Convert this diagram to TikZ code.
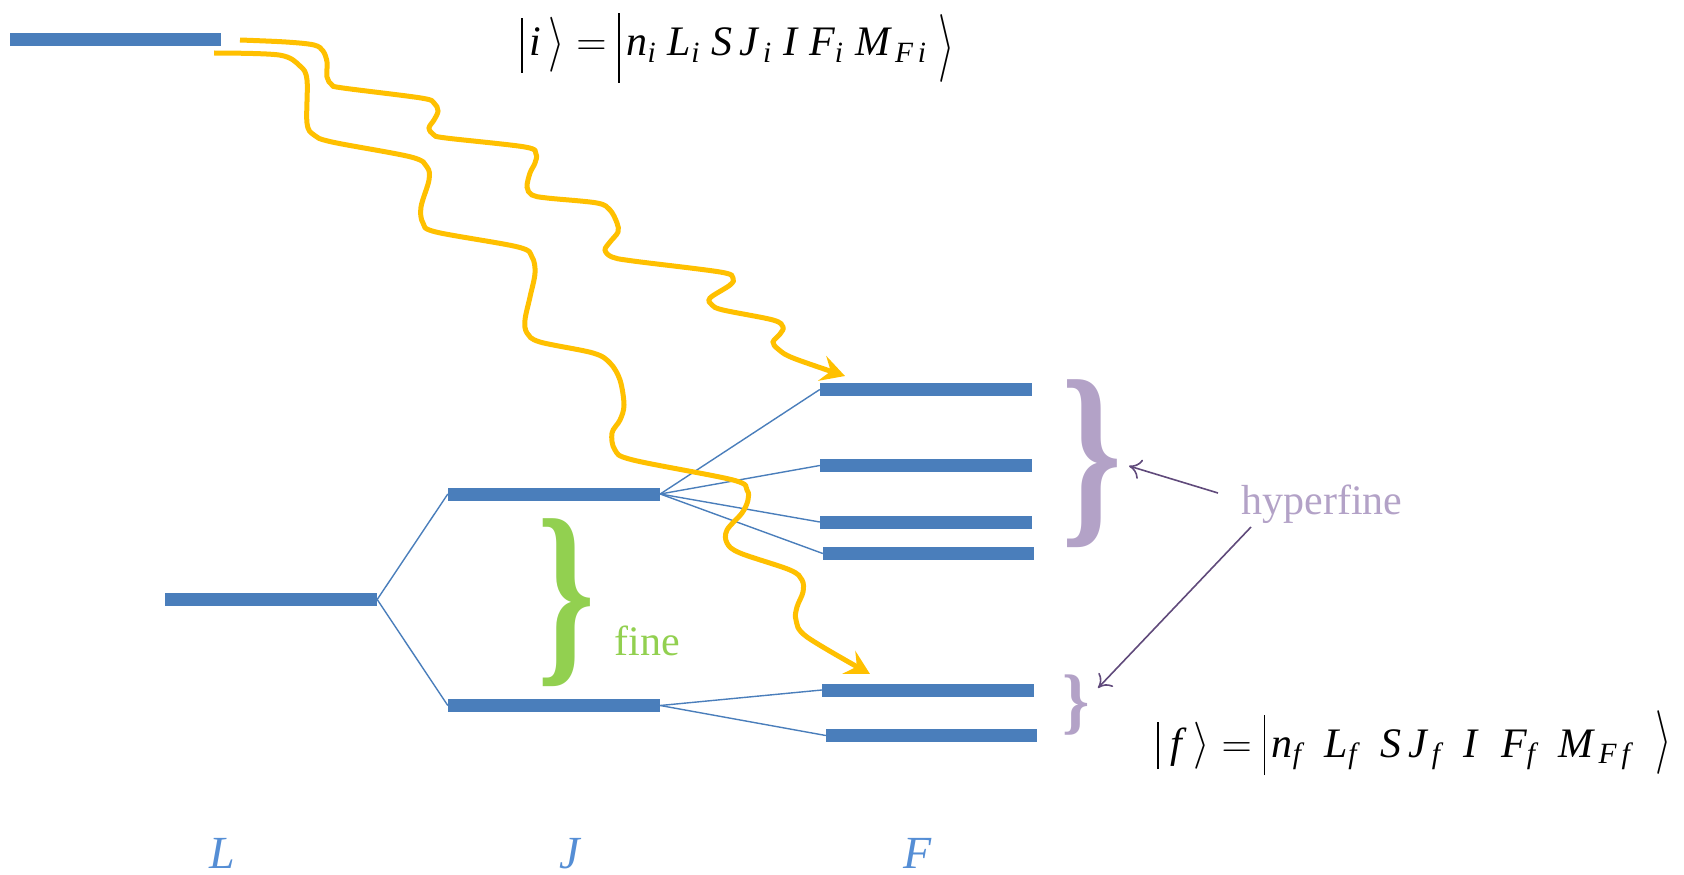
\RequirePackage{fix-cm}
\documentclass[tikz,border=0pt]{standalone}
\usepackage{amsmath}
\usepackage{fontspec}
\setmainfont{Liberation Serif}
\usetikzlibrary{arrows.meta}
\definecolor{barblue}{RGB}{74,126,187}
\definecolor{wavey}{RGB}{255,192,0}
\definecolor{fgreen}{RGB}{146,208,80}
\definecolor{hpurple}{RGB}{179,162,199}
\definecolor{apurple}{RGB}{96,74,123}
\definecolor{lblue}{RGB}{85,142,213}
\newcommand{\iv}[1]{\textit{#1}}
\newcommand{\vbar}[2]{\raisebox{#2}{\rule{1.4pt}{#1}}}
\newcommand{\rang}[2]{\raisebox{#2}{\scalebox{1}[#1]{$\rangle$}}}
\begin{document}
\begin{tikzpicture}[x=1pt,y=-1pt,
  level/.style={rectangle, fill=barblue, draw=none, minimum height=13pt, inner sep=0pt, minimum width=#1},
  level/.default=212pt,
  split/.style={draw=barblue, line width=1.4pt},
  photon/.style={draw=wavey, line width=5pt, -{Stealth[length=24pt,width=26pt,inset=9pt]}},
  bracenode/.style={inner sep=0pt, outer sep=0pt},
  hfarrow/.style={draw=apurple, line width=1.6pt, -{To[length=12pt,width=20pt,line width=1.6pt]}},
  axislbl/.style={text=lblue, font=\fontsize{46}{46}\selectfont\itshape, anchor=base, inner sep=0pt},
  eqn/.style={font=\fontsize{42}{48}\selectfont, inner sep=0pt, anchor=base west}
]
\useasboundingbox (0,0) rectangle (1684,875);

% levels
\node[level=211pt] (Li) at (115.5,40) {};
\node[level] (L) at (271,599.5) {};
\node[level] (Jt) at (554,494) {};
\node[level] (Jb) at (554,705.5) {};
\node[level] (F1) at (926,389.5) {};
\node[level] (F2) at (926,465.5) {};
\node[level] (F3) at (926,522) {};
\node[level=211pt] (F4) at (928.5,553.5) {};
\node[level] (F5) at (928,690) {};
\node[level=211pt] (F6) at (931.5,735.5) {};

% splitting lines
\draw[split] (L.east) -- (Jt.west);
\draw[split] (L.east) -- (Jb.west);
\draw[split] (Jt.east) -- (F1.west);
\draw[split] (Jt.east) -- (F2.west);
\draw[split] (Jt.east) -- (F3.west);
\draw[split] (Jt.east) -- (F4.west);
\draw[split] (Jb.east) -- (F5.west);
\draw[split] (Jb.east) -- (F6.west);

% photons
\draw[photon] plot[smooth, tension=0.55] coordinates {
 (240,40) (286,42) (314,45) (323,51) (327,62) (327,77) (332,85) (343,88)
 (421,98) (434,103) (438,111) (434,120) (429,128) (434,135) (446,138)
 (525,147) (536,154) (535,163) (530,173) (527,187) (532,195) (547,198)
 (597,203) (610,210) (617,223) (618,232) (610,242) (605,250) (612,257) (633,261)
 (720,272) (733,278) (730,285) (710,298) (712,305) (723,310)
 (773,320) (783,327) (780,334) (773,342) (778,349) (793,358) (845,376)};
\draw[photon] plot[smooth, tension=0.55] coordinates {
 (214,53) (279,55) (300,66) (307,80) (307,123) (314,135) (332,142)
 (411,157) (427,167) (429,180) (421,207) (423,223) (436,232)
 (518,247) (532,257) (535,273) (530,297) (525,320) (527,333) (540,342)
 (593,353) (610,363) (620,380) (624,405) (620,420) (612,433) (615,450) (633,460)
 (733,480) (747,490) (748,500) (742,513) (727,530) (727,543) (740,553)
 (790,570) (802,580) (803,592) (797,607) (796,620) (807,637) (870,674)};

% braces
\node[bracenode, text=fgreen] (fb) at (566.5,602.5) {\scalebox{0.72}[1]{\fontsize{203}{203}\selectfont\bfseries\}}};
\node[bracenode, text=hpurple] (hb) at (1091.5,463.5) {\scalebox{0.76}[1]{\fontsize{203}{203}\selectfont\bfseries\}}};
\node[bracenode, text=hpurple] (hs) at (1076.5,705.5) {\scalebox{0.95}[1]{\fontsize{73}{73}\selectfont\bfseries\}}};

% labels
\node[text=fgreen, font=\fontsize{42}{42}\selectfont, anchor=base, inner sep=0pt] (fine) at (647,655) {fine};
\node[text=hpurple, font=\fontsize{42}{42}\selectfont, anchor=base, inner sep=0pt] (hyp) at (1322,514) {hyperfine};
\coordinate (h1s) at (1218,493);
\coordinate (h1e) at (1129,466);
\coordinate (h2s) at (1251,527);
\coordinate (h2e) at (1098,688);
\draw[hfarrow] (h1s) -- (h1e);
\draw[hfarrow] (h2s) -- (h2e);

% axis labels
\node[axislbl] (aL) at (222,868) {L};
\node[axislbl] (aJ) at (570,868) {J};
\node[axislbl] (aF) at (918,868) {F};

% state equations
\node[eqn] (ei) at (521,56) {$\vbar{55pt}{-17pt}\,\iv{i}\,\rang{1.31}{-3pt}=\vbar{70pt}{-27pt}\,\iv{n}_{\iv{i}}\;\iv{L}_{\iv{i}}\;\iv{S}\,\iv{J}_{\,\iv{i}}\;\iv{I}\;\iv{F}_{\iv{i}}\;\iv{M}_{\,\iv{F\,i}}\;\rang{1.62}{-10pt}$};
\node[eqn] (ef) at (1157,757) {$\vbar{47pt}{-12pt}\;\iv{f}\;\rang{1.12}{0pt}=\vbar{60pt}{-18pt}\,\iv{n}_{\iv{f}}\;\;\iv{L}_{\iv{f}}\;\;\iv{S}\,\iv{J}_{\,\iv{f}}\;\;\iv{I}\;\;\iv{F}_{\iv{f}}\;\;\iv{M}_{\,\iv{F\,f}}\;\,\,\rang{1.52}{-1pt}$};
\end{tikzpicture}
\end{document}
